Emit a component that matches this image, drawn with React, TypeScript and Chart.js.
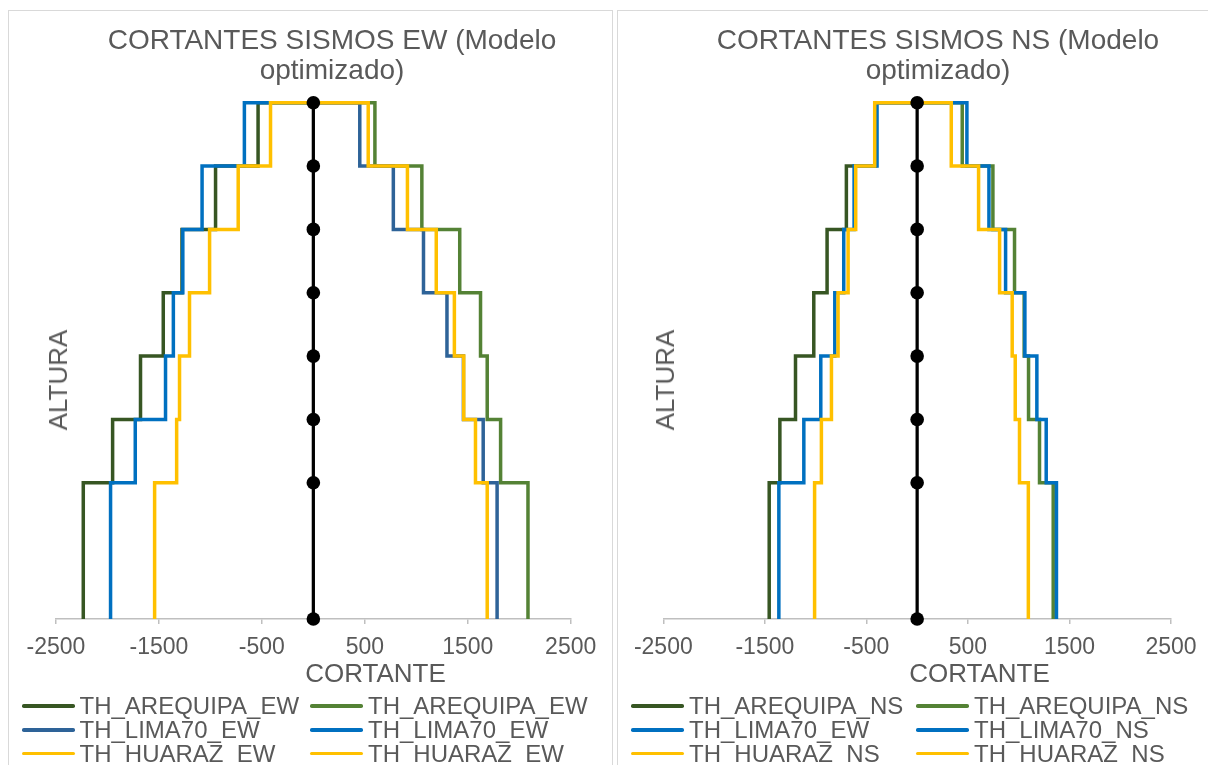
import React, { useEffect, useRef } from 'react';
import { Chart, registerables } from 'chart.js';

Chart.register(...registerables);

const FONT = "'Liberation Sans', Arial, Helvetica, sans-serif";
const TEXT = '#595959';

// Heights of the floor levels (base to roof)
const alturas = [0, 4.3, 6.3, 8.3, 10.3, 12.3, 14.3, 16.3];
const xTicks = [-2500, -1500, -500, 500, 1500, 2500];

// Story shears, first story (bottom) to last story (top) — EW model
const ewArequipaNeg = [-2235, -1950, -1679, -1458, -1276, -950, -537];
const ewArequipaPos = [2085, 1819, 1689, 1624, 1422, 1054, 598];
const ewLimaPos = [1785, 1650, 1458, 1298, 1070, 777, 451];
const ewLimaNeg = [-1970, -1730, -1436, -1360, -1268, -1081, -670];
const ewHuarazNeg = [-1542, -1328, -1300, -1203, -1008, -730, -416];
const ewHuarazPos = [1689, 1575, 1461, 1370, 1194, 914, 533];

// Story shears — NS model
const nsArequipaNeg = [-1457, -1352, -1198, -1018, -887, -697, -410];
const nsArequipaPos = [1340, 1205, 1097, 1054, 959, 746, 444];
const nsLimaNeg = [-1362, -1116, -949, -811, -723, -621, -395];
const nsLimaPos = [1372, 1271, 1179, 1061, 871, 707, 490];
const nsHuarazNeg = [-1010, -943, -844, -779, -680, -605, -418];
const nsHuarazPos = [1095, 1008, 966, 936, 812, 605, 336];

const COL = {
  darkGreen: '#375623',
  green: '#548235',
  steelBlue: '#2E6398',
  blue: '#0070C0',
  yellow: '#FFC000',
  black: '#000000',
};

function escalones(cortantes: number[]) {
  const pts: { x: number; y: number }[] = [];
  cortantes.forEach((v, i) => {
    pts.push({ x: v, y: alturas[i] });
    pts.push({ x: v, y: alturas[i + 1] });
  });
  pts.push({ x: 0, y: alturas[alturas.length - 1] });
  return pts;
}

type Serie = { label: string; color: string; values: number[] };
type Spec = {
  title: string[];
  titleX: number;
  series: Serie[];
  canvas: { left: number; top: number; width: number; height: number };
  area: { left: number; right: number; top: number; bottom: number };
  panel: { left: number; width: number };
  alturaX: number;
  cortanteX: number;
  legendCols: number[];
};

const X_AXIS_H = 50;

const specs: Spec[] = [
  {
    title: ['CORTANTES SISMOS EW (Modelo', 'optimizado)'],
    titleX: 332,
    series: [
      { label: 'TH_AREQUIPA_EW', color: COL.darkGreen, values: ewArequipaNeg },
      { label: 'TH_AREQUIPA_EW', color: COL.green, values: ewArequipaPos },
      { label: 'TH_LIMA70_EW', color: COL.steelBlue, values: ewLimaPos },
      { label: 'TH_LIMA70_EW', color: COL.blue, values: ewLimaNeg },
      { label: 'TH_HUARAZ_EW', color: COL.yellow, values: ewHuarazNeg },
      { label: 'TH_HUARAZ_EW', color: COL.yellow, values: ewHuarazPos },
    ],
    canvas: { left: 9, top: 11, width: 603, height: 754 },
    area: { left: 56, right: 570.7, top: 102.7, bottom: 619 },
    panel: { left: 8, width: 605 },
    alturaX: 58,
    cortanteX: 375.5,
    legendCols: [21.5, 310],
  },
  {
    title: ['CORTANTES SISMOS NS (Modelo', 'optimizado)'],
    titleX: 938,
    series: [
      { label: 'TH_AREQUIPA_NS', color: COL.darkGreen, values: nsArequipaNeg },
      { label: 'TH_AREQUIPA_NS', color: COL.green, values: nsArequipaPos },
      { label: 'TH_LIMA70_EW', color: COL.blue, values: nsLimaNeg },
      { label: 'TH_LIMA70_NS', color: COL.blue, values: nsLimaPos },
      { label: 'TH_HUARAZ_NS', color: COL.yellow, values: nsHuarazNeg },
      { label: 'TH_HUARAZ_NS', color: COL.yellow, values: nsHuarazPos },
    ],
    canvas: { left: 618, top: 11, width: 590, height: 754 },
    area: { left: 663.3, right: 1171, top: 102.7, bottom: 619 },
    panel: { left: 617, width: 620 },
    alturaX: 665,
    cortanteX: 979.5,
    legendCols: [631, 916],
  },
];

const legendRows = [706, 729.8, 753.5];

function StepChart({ spec }: { spec: Spec }) {
  const ref = useRef<HTMLCanvasElement>(null);
  useEffect(() => {
    if (!ref.current) return;
    const n = spec.series.length;
    const datasets: any[] = spec.series.map((s, i) => ({
      label: s.label,
      data: escalones(s.values),
      borderColor: s.color,
      backgroundColor: s.color,
      borderWidth: 3.5,
      pointRadius: 0,
      pointHoverRadius: 0,
      showLine: true,
      tension: 0,
      clip: false,
      order: n - i,
    }));
    datasets.push({
      label: 'Niveles',
      data: alturas.map((h) => ({ x: 0, y: h })),
      borderColor: COL.black,
      backgroundColor: COL.black,
      borderWidth: 3.25,
      pointRadius: 6.8,
      pointBorderWidth: 0,
      pointHoverRadius: 6.8,
      showLine: true,
      clip: false,
      order: 0,
    });
    const { canvas: cv, area } = spec;
    const chart = new Chart(ref.current, {
      type: 'scatter',
      data: { datasets },
      options: {
        responsive: false,
        animation: false,
        events: [],
        devicePixelRatio: 1,
        layout: {
          padding: {
            left: area.left - cv.left,
            right: cv.left + cv.width - area.right,
            top: area.top - cv.top,
            bottom: cv.top + cv.height - area.bottom - X_AXIS_H,
          },
        },
        plugins: {
          legend: { display: false },
          title: { display: false },
          tooltip: { enabled: false },
        },
        scales: {
          x: {
            type: 'linear',
            min: xTicks[0],
            max: xTicks[xTicks.length - 1],
            afterBuildTicks: (ax: any) => {
              ax.ticks = xTicks.map((v) => ({ value: v }));
            },
            afterFit: (ax: any) => {
              ax.height = X_AXIS_H;
            },
            grid: {
              display: true,
              drawOnChartArea: false,
              drawTicks: true,
              tickLength: 5,
              color: '#BFBFBF',
              lineWidth: 1.5,
            },
            border: { display: true, color: '#BFBFBF', width: 1.5 },
            ticks: {
              color: TEXT,
              font: { family: FONT, size: 23, lineHeight: 1.2 },
              padding: 9.5,
              maxRotation: 0,
              autoSkip: false,
              callback: (v: any) => String(v),
            },
          },
          y: { type: 'linear', min: alturas[0], max: alturas[alturas.length - 1], display: false },
        },
      } as any,
    });
    return () => chart.destroy();
  }, [spec]);

  const { canvas: cv } = spec;
  return (
    <>
      <div
        style={{
          position: 'absolute',
          left: spec.panel.left,
          top: 10,
          width: spec.panel.width,
          height: 820,
          border: '1px solid #D9D9D9',
          boxSizing: 'border-box',
        }}
      />
      <canvas
        ref={ref}
        width={cv.width}
        height={cv.height}
        style={{ position: 'absolute', left: cv.left, top: cv.top, width: cv.width, height: cv.height }}
      />
      <div
        style={{
          position: 'absolute',
          left: spec.titleX - 300,
          width: 600,
          top: 40 - 14.7,
          textAlign: 'center',
          fontFamily: FONT,
          fontSize: 28,
          lineHeight: '30px',
          color: TEXT,
          whiteSpace: 'nowrap',
        }}
      >
        {spec.title[0]}
        <br />
        {spec.title[1]}
      </div>
      <div
        style={{
          position: 'absolute',
          left: spec.alturaX,
          top: 380,
          transform: 'translate(-50%, -50%) rotate(-90deg)',
          fontFamily: FONT,
          fontSize: 26,
          lineHeight: '26px',
          color: TEXT,
          whiteSpace: 'nowrap',
        }}
      >
        ALTURA
      </div>
      <div
        style={{
          position: 'absolute',
          left: spec.cortanteX - 150,
          width: 300,
          top: 673 - 12.7,
          textAlign: 'center',
          fontFamily: FONT,
          fontSize: 26,
          lineHeight: '26px',
          color: TEXT,
          whiteSpace: 'nowrap',
        }}
      >
        CORTANTE
      </div>
      {spec.series.map((s, i) => {
        const row = Math.floor(i / 2);
        const col = i % 2;
        const x = spec.legendCols[col];
        const y = legendRows[row];
        return (
          <React.Fragment key={i}>
            <div
              style={{
                position: 'absolute',
                left: x,
                top: y - 1.75,
                width: 53,
                height: 3.5,
                borderRadius: 1.75,
                background: s.color,
              }}
            />
            <div
              style={{
                position: 'absolute',
                left: x + 58,
                top: y - 11.9,
                fontFamily: FONT,
                fontSize: 24,
                lineHeight: '24px',
                color: TEXT,
                whiteSpace: 'nowrap',
              }}
            >
              {s.label}
            </div>
          </React.Fragment>
        );
      })}
    </>
  );
}

export default function App() {
  return (
    <div
      style={{
        position: 'absolute',
        left: 0,
        top: 0,
        width: 1208,
        height: 765,
        overflow: 'hidden',
        background: '#FFFFFF',
      }}
    >
      {specs.map((s, i) => (
        <StepChart key={i} spec={s} />
      ))}
    </div>
  );
}
